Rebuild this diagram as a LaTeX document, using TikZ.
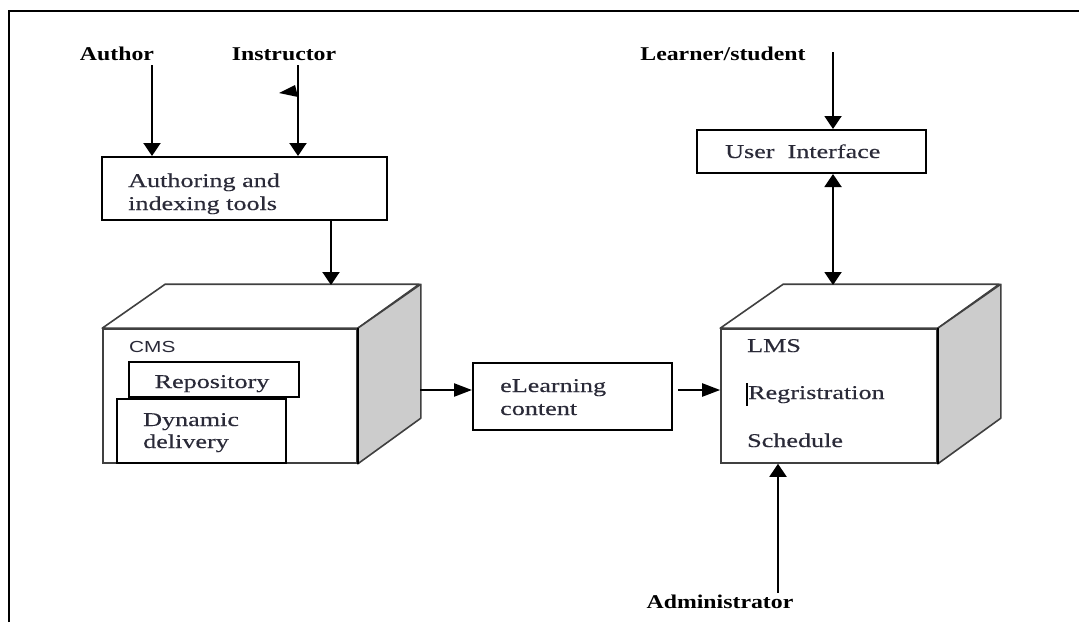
\documentclass[tikz,border=0pt]{standalone}
\usepackage{fontspec}
\setmainfont{Liberation Serif}
\newfontfamily\lblfont{Liberation Serif}[FakeStretch=1.22]
\newfontfamily\boxfont{Liberation Serif}[FakeStretch=1.34,FakeBold=0.3]
\newfontfamily\cmsfont{Liberation Sans}[FakeStretch=1.3]
\usetikzlibrary{arrows.meta}
\definecolor{txt}{HTML}{2A2A38}
\definecolor{sidegray}{HTML}{CCCCCC}
\definecolor{edgegray}{HTML}{404040}
\tikzset{
  lbl/.style={font=\lblfont\bfseries\fontsize{19.5}{23}\selectfont, inner sep=0pt, anchor=base},
  btxt/.style={font=\boxfont\fontsize{19.5}{23}\selectfont, text=txt, inner sep=0pt, anchor=base west, align=left},
  box/.style={draw=black, line width=2pt, fill=white, inner sep=0pt},
  face/.style={draw=edgegray, line width=1.6pt, fill=white, inner sep=0pt},
  cubeedge/.style={draw=edgegray, line width=1.6pt, line join=round},
  varr/.style={line width=2pt, -{Triangle[width=17pt,length=13pt]}},
  harr/.style={line width=2.3pt, -{Triangle[width=13pt,length=18pt]}},
  vdarr/.style={line width=2pt, {Triangle[width=17pt,length=13pt]}-{Triangle[width=17pt,length=13pt]}},
}
\begin{document}
\begin{tikzpicture}[x=1pt,y=-1pt]
\useasboundingbox (0,0) rectangle (1079,622);
\fill[white] (0,0) rectangle (1079,622);
% frame
\draw[line width=2.2pt] (9,622) -- (9,11) -- (1079,11);

% top labels
\node[lbl] (author) at (117,60) {Author};
\node[lbl] (instr) at (284,60) {Instructor};
\node[lbl] (learner) at (723,60) {Learner/student};
\node[lbl] (admin) at (720,608) {Administrator};

% authoring box
\node[box, minimum width=285pt, minimum height=63pt] (authbox) at (244.5,188.5) {};
\node[btxt] (authtxt) at (128,210) {Authoring and\\indexing tools};

\coordinate (authorA) at (152,65);
\coordinate (instrA) at (298,65);
\draw[varr] (authorA) -- (authorA |- authbox.north);
\draw[varr] (instrA) -- (instrA |- authbox.north);
\fill (279,93) -- (295,85) -- (298,97) -- cycle;

% CMS cube
\node[face, minimum width=254pt, minimum height=134pt] (cmsfront) at (230,396) {};
\draw[cubeedge, fill=white] (cmsfront.north west) -- ++(63,-44) -- ++(254,0) -- (cmsfront.north east) -- cycle;
\filldraw[cubeedge, fill=sidegray] (cmsfront.north east) -- ++(63,-44) -- ++(0,134) -- (cmsfront.south east) -- cycle;
\draw[line width=2.4pt] (cmsfront.north east) -- (cmsfront.south east);
\node[anchor=base west, font=\cmsfont\fontsize{16}{19}\selectfont, text=txt, inner sep=0pt] (cmslbl) at (129,352) {CMS};
\node[box, minimum width=170pt, minimum height=35pt] (repo) at (214,379.5) {};
\node[btxt, anchor=base] (repotxt) at (212,388) {Repository};
\node[box, minimum width=169pt, minimum height=64pt] (dyn) at (201.5,431) {};
\node[btxt] (dyntxt) at (143,448) {Dynamic\\[-1pt]delivery};

\coordinate (cmstop) at (331,285);
\draw[varr] (authbox.south -| cmstop) -- (cmstop);

% eLearning box
\node[box, minimum width=199pt, minimum height=67pt] (elbox) at (572.5,396.5) {};
\node[btxt] (eltxt) at (500,415) {eLearning\\content};
\coordinate (cmsout) at (420,390);
\coordinate (elout) at (678,390);

% LMS cube
\node[face, minimum width=216pt, minimum height=134pt] (lmsfront) at (829,396) {};
\draw[cubeedge, fill=white] (lmsfront.north west) -- ++(63,-44) -- ++(216,0) -- (lmsfront.north east) -- cycle;
\filldraw[cubeedge, fill=sidegray] (lmsfront.north east) -- ++(63,-44) -- ++(0,134) -- (lmsfront.south east) -- cycle;
\draw[line width=2.4pt] (lmsfront.north east) -- (lmsfront.south east);
\node[btxt] (lmslbl) at (747,352) {LMS};
\node[btxt] (regtxt) at (748,399) {Regristration};
\draw[line width=1.2pt] (747,383) -- (747,406);
\node[btxt] (schedtxt) at (747,447) {Schedule};

\draw[harr] (cmsout) -- (cmsout -| elbox.west);
\draw[harr] (elout) -- (elout -| lmsfront.west);

% user interface
\node[box, minimum width=229pt, minimum height=43pt] (uibox) at (811.5,151.5) {};
\node[btxt] (uitxt) at (725,158) {User\ \ Interface};
\coordinate (learnA) at (833,52);
\draw[varr] (learnA) -- (learnA |- uibox.north);
\coordinate (lmstop) at (833,285);
\draw[vdarr] (uibox.south -| lmstop) -- (lmstop);

% administrator
\coordinate (adminA) at (778,593);
\draw[varr] (adminA) -- (adminA |- lmsfront.south);
\end{tikzpicture}
\end{document}
